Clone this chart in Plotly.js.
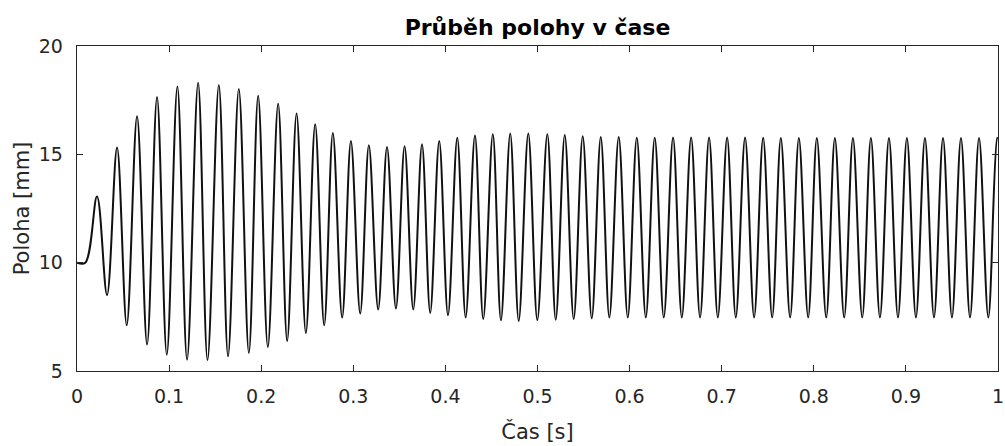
<!DOCTYPE html>
<html>
<head>
<meta charset="utf-8">
<script src="https://cdn.plot.ly/plotly-3.0.1.min.js"></script>
<style>html,body{margin:0;padding:0;background:#fff;}#chart{width:1005px;height:446px;}</style>
</head>
<body>
<div id="chart"></div>
<script>
// Local extremes of the position trace (time in s, position in mm)
const time_s = [
  0, 0.009,
  0.0217, 0.0326, 0.0435, 0.0540, 0.0652, 0.0761, 0.0869, 0.0975,
  0.1090, 0.1195, 0.1315, 0.1417, 0.1540, 0.1640, 0.1757, 0.1866,
  0.1967, 0.2072, 0.2184, 0.2282, 0.2384, 0.2485, 0.2586, 0.2684,
  0.2778, 0.2879, 0.2974, 0.3075, 0.3169, 0.3270, 0.3366, 0.3463,
  0.3557, 0.3651, 0.3746, 0.3835, 0.3933, 0.4028, 0.4129, 0.4220,
  0.4321, 0.4411, 0.4515, 0.4603, 0.4704, 0.4796, 0.4900, 0.4998,
  0.5107, 0.5198, 0.5296, 0.5393, 0.5491, 0.5589, 0.5687, 0.5780,
  0.5882, 0.5980, 0.6078, 0.6176, 0.6273, 0.6371, 0.6472, 0.6567,
  0.6668, 0.6765, 0.6863, 0.6958, 0.7059, 0.7153, 0.7254, 0.7352,
  0.7450, 0.7548, 0.7642, 0.7743, 0.7838, 0.7939, 0.8033, 0.8135,
  0.8229, 0.8330, 0.8425, 0.8526, 0.8620, 0.8718, 0.8816, 0.8914,
  0.9011, 0.9109, 0.9207, 0.9305, 0.9403, 0.9500, 0.9598, 0.9696,
  0.9794, 0.9895, 0.9992, 1.0
];
const position_mm = [
  10.0, 10.0,
  13.05, 8.50, 15.31, 7.11, 16.76, 6.22, 17.65, 5.75,
  18.13, 5.52, 18.30, 5.50, 18.20, 5.68, 18.01, 5.83,
  17.70, 6.11, 17.33, 6.39, 16.88, 6.75, 16.39, 7.11,
  15.99, 7.47, 15.62, 7.65, 15.42, 7.84, 15.34, 7.88,
  15.37, 7.84, 15.46, 7.68, 15.62, 7.57, 15.77, 7.47,
  15.87, 7.40, 15.93, 7.34, 15.96, 7.31, 15.96, 7.35,
  15.93, 7.37, 15.89, 7.40, 15.83, 7.43, 15.80, 7.47,
  15.80, 7.47, 15.77, 7.47, 15.77, 7.47, 15.78, 7.47,
  15.78, 7.47, 15.78, 7.47, 15.78, 7.47, 15.78, 7.47,
  15.77, 7.47, 15.75, 7.47, 15.75, 7.47, 15.75, 7.47,
  15.75, 7.47, 15.75, 7.47, 15.75, 7.47, 15.75, 7.47,
  15.75, 7.47, 15.75, 7.47, 15.75, 7.47, 15.75, 7.47,
  15.75, 7.47, 15.75, 15.73
];
const xTickVals = [0, 0.1, 0.2, 0.3, 0.4, 0.5, 0.6, 0.7, 0.8, 0.9, 1];
const xTickText = ["0", "0.1", "0.2", "0.3", "0.4", "0.5", "0.6", "0.7", "0.8", "0.9", "1"];
const yTickVals = [5, 10, 15, 20];
const yTickText = ["5", "10", "15", "20"];

const axisColor = '#262626';
const fontFam = 'DejaVu Sans, Liberation Sans, sans-serif';
const tickFont = {family: fontFam, size: 19, color: axisColor};

const trace = {
  x: time_s, y: position_mm, type: 'scatter', mode: 'lines',
  line: {color: '#111111', width: 2, shape: 'spline', smoothing: 1},
  hoverinfo: 'skip'
};

const layout = {
  width: 1005, height: 446,
  margin: {l: 77, r: 7, t: 46, b: 75},
  paper_bgcolor: '#ffffff', plot_bgcolor: '#ffffff',
  showlegend: false,
  title: {
    text: '<b>Průběh polohy v čase</b>',
    font: {family: fontFam, size: 22, color: '#000000'},
    x: 0.5, xanchor: 'center', xref: 'paper',
    y: 1 - 27/446, yanchor: 'middle', yref: 'container'
  },
  xaxis: {
    range: [0, 1], tickmode: 'array', tickvals: xTickVals, ticktext: xTickText,
    ticks: 'inside', ticklen: 6, tickwidth: 1, tickcolor: axisColor,
    showline: true, linecolor: axisColor, linewidth: 1.3, mirror: 'ticks',
    showgrid: false, zeroline: false, tickfont: tickFont, ticklabelstandoff: 8,
    title: {text: 'Čas [s]', font: {family: fontFam, size: 21, color: axisColor}, standoff: 18}
  },
  yaxis: {
    range: [5, 20], tickmode: 'array', tickvals: yTickVals, ticktext: yTickText,
    ticks: 'inside', ticklen: 6, tickwidth: 1, tickcolor: axisColor,
    showline: true, linecolor: axisColor, linewidth: 1.3, mirror: 'ticks',
    showgrid: false, zeroline: false, tickfont: tickFont, ticklabelstandoff: 9,
    title: {text: 'Poloha [mm]', font: {family: fontFam, size: 21, color: axisColor}, standoff: 3}
  }
};

Plotly.newPlot('chart', [trace], layout, {staticPlot: true, displayModeBar: false});
</script>
</body>
</html>
